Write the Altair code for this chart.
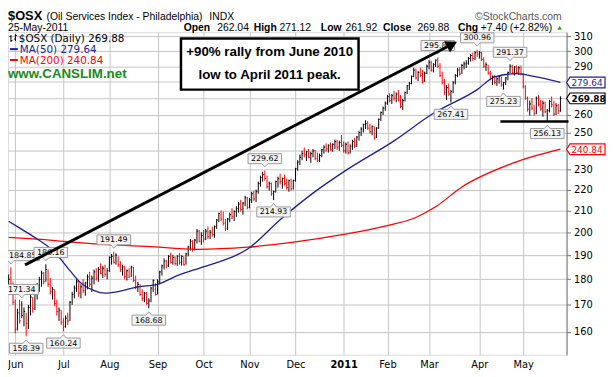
import altair as alt
import pandas as pd

# ---------------- data ----------------
# daily bars, index 0 = 26-May-2010 ... 252 = 25-May-2011 (trading days)
high = [182, 184.85, 179, 172, 168.5, 172, 171.34, 169, 167, 170,
        175, 173, 176, 178.5, 181, 183.5, 183, 186.16, 184, 180.5,
        177, 176, 172, 169, 168, 165, 166, 167, 171.5, 175,
        177.5, 180, 179.5, 178, 180, 179, 182, 183, 181.5, 184,
        184.5, 185, 186.5, 185.5, 186, 184.5, 189.5, 190.5, 191.49, 190.8,
        189.5, 187.5, 186, 185.5, 184, 184.5, 185.6, 185, 181.5, 179,
        178, 176, 175, 175, 172.5, 177, 180, 178.5, 180, 183.5,
        186, 188.6, 188, 190, 191, 190, 189.5, 190, 191, 190,
        189.5, 191, 194, 197, 196.5, 197, 201.5, 201, 200, 201,
        201.5, 202.6, 201, 202.5, 203, 206, 209, 210, 209.5, 206,
        206.5, 209, 211, 210, 212, 214, 215, 214, 217, 216.5,
        216, 219, 219.5, 220, 224, 227, 229, 229.62, 227, 224,
        223.5, 219.5, 224.5, 226.5, 228, 226, 227.5, 225.5, 225, 225.5,
        225, 231, 235, 238, 240, 241.8, 240, 241, 239.5, 241,
        240.5, 239, 238.5, 241, 243, 244, 243.5, 244.5, 244, 246,
        246, 245.5, 248.6, 245, 244.5, 245, 243.5, 246, 247, 248,
        251, 253, 255, 257, 256.5, 255, 254, 253.5, 253, 258,
        262, 265, 268, 272, 273, 272.5, 274.5, 273.5, 275, 272,
        269.5, 274, 278, 280, 284, 289, 288.5, 287, 289, 287.5,
        286.5, 291, 294, 293.5, 292, 294.5, 295.84, 292, 286.5, 282,
        278, 279, 275, 280.5, 285, 289, 289.5, 291.5, 293, 294,
        296, 298, 299, 300, 300.96, 300, 299.5, 296, 292.5, 291,
        287, 284, 284.5, 283, 284, 283.5, 280, 283, 286.5, 291.37,
        291, 290, 290.5, 290, 290.5, 285.5, 278, 271, 268.5, 270,
        266, 271, 272, 269, 268.5, 268, 263.5, 269, 271, 268.5,
        267, 266.5, 271.12]
low = [177, 176, 170, 159.5, 160.5, 163, 165, 162, 158.39, 161,
       166, 167, 168, 172, 175, 177, 178, 179, 177, 174,
       172, 169.5, 166, 164, 162.5, 160.24, 161.5, 162.5, 164, 170,
       172.5, 175, 173, 172.5, 174.5, 173.5, 176, 177, 175, 178,
       179.5, 179, 182, 180.5, 181, 180, 183, 186, 186.5, 186,
       185, 183, 181.5, 180, 179.5, 180.5, 181, 179, 176, 175,
       173.5, 171.5, 171, 170, 168.68, 171, 175, 173.5, 174, 178,
       181.5, 184, 184.5, 185, 186.5, 186, 185.7, 185.5, 186, 185.6,
       185.6, 186, 189.5, 192, 191.5, 192, 195, 195.5, 194.4, 195.5,
       196.5, 197, 197, 198, 197.5, 201.5, 204.5, 205, 203, 200.6,
       201, 204.5, 206, 205, 207, 209, 209.5, 208, 212, 210.5,
       211, 213.5, 214.5, 214, 218, 221.5, 224, 224.5, 220.5, 219.5,
       217, 214.93, 218.5, 221, 222.5, 220.5, 222, 220, 219, 219.5,
       220, 224, 229.5, 232.5, 235, 236.5, 234.5, 236, 233.6, 236.5,
       235, 234, 234, 236.5, 238.5, 239.5, 239, 240, 239.5, 241,
       240.5, 240, 242, 239, 238.5, 238, 238.5, 240.5, 241.5, 242,
       245.5, 248, 250, 252, 251.5, 249.5, 248.5, 246, 247, 252,
       256.5, 260, 262.5, 266, 267.5, 266.5, 268.5, 267.5, 268, 264,
       263, 268, 272.5, 275, 278.5, 283, 281.5, 280.5, 283, 279,
       280, 285, 288, 286.5, 286, 289.5, 289, 283, 278.5, 272,
       269, 271.5, 267.41, 273, 278.5, 283, 284, 285, 288, 289,
       291, 293, 293.5, 294, 296, 295, 293.5, 289, 287, 284.5,
       281, 278, 278.5, 277.5, 279, 277, 275.23, 278, 281, 285.5,
       285, 284, 285, 284.5, 284, 276, 269, 262, 259.6, 263,
       259.6, 260.5, 265, 262.5, 259, 261, 256.13, 261.5, 264.5, 259.5,
       260, 260.5, 261.92]
close = [180, 178, 171, 161, 167, 164, 166, 167.5, 163, 169,
         173, 168.5, 175, 177.5, 180, 182.5, 179, 184, 178, 175,
         176, 170.5, 167.5, 168, 163.5, 162, 165, 164, 171, 174,
         176.5, 179, 174.5, 177, 175.5, 178.5, 181, 178, 180.5, 183,
         180.5, 184, 182.5, 184.5, 182, 183.5, 189, 189.5, 187, 190,
         186, 184, 185, 181, 183.5, 181, 185, 179.5, 177, 178,
         174, 172.5, 174.5, 170.5, 171.5, 176.5, 179.5, 174, 179, 183,
         185.5, 187.5, 185.5, 189.5, 187, 189, 186.5, 189.5, 187, 189.5,
         186, 190.5, 193.5, 196, 192.5, 196.5, 200.5, 196, 198.5, 197,
         200.5, 198, 200, 199, 202.5, 205.5, 208.5, 206, 204, 201.5,
         206, 208, 207, 209.5, 211, 213, 210.5, 213.5, 216, 211.5,
         215, 218, 215.5, 219, 223, 226, 227.5, 225.5, 221.5, 223,
         218, 219, 224, 225.5, 224, 225.5, 223, 221, 224.5, 220.5,
         224.5, 230.5, 234, 236.5, 238.5, 238, 239.5, 236.5, 238.5, 240,
         236, 235, 237.5, 240.5, 242, 241, 243, 240.5, 243.5, 245,
         242, 244.5, 243, 240, 243.5, 239, 242.5, 245, 242.5, 247.5,
         250, 252, 254.5, 255, 252.5, 250.5, 253.5, 247, 252.5, 257.5,
         261.5, 264, 267, 271, 268.5, 271.5, 270, 272.5, 269, 265,
         268.5, 273.5, 277.5, 279, 283.5, 287.5, 282.5, 286, 284, 280,
         285.5, 290, 292.5, 287.5, 291, 294, 290, 284, 279.5, 273.5,
         276.5, 272.5, 274, 279.5, 284, 287.5, 285, 290.5, 291.5, 292,
         295, 297, 295, 299, 298, 299, 294.5, 290, 291, 285.5,
         282, 283.5, 279.5, 282, 283.5, 278, 279.5, 282.5, 286, 290,
         286, 289.5, 286, 289, 285, 277, 270, 263.5, 266.5, 264,
         261, 270, 266, 263.5, 267, 262, 262.5, 268, 266, 260.5,
         265.5, 262.48, 269.88]

# moving averages read at sample bars
ma50_i = [0, 6, 13, 21, 28, 33, 39, 44, 52, 59, 68, 77, 87, 94, 109, 124,
          139, 154, 176, 194, 214, 222, 232, 240, 252]
ma50_v = [205, 201.3, 197, 191.3, 183.5, 178.5, 175.5, 174.5, 175.5, 177,
          178, 181.5, 184.5, 186.5, 192.5, 205.7, 218.3, 229.7, 245.4, 261,
          275.2, 283.2, 285.2, 283.5, 279.64]
ma200_i = [0, 13, 28, 44, 63, 86, 109, 131, 153, 173, 186, 195, 207, 230, 252]
ma200_v = [197.7, 196.9, 195.7, 194.6, 193.8, 192.5, 193.4, 195.7, 199, 203,
           206.7, 211.7, 221.3, 233.3, 240.84]

# month axis
month_idx = [3, 25, 46, 68, 89, 110, 131, 153, 173, 192, 215, 235]
month_lab = ["Jun", "Jul", "Aug", "Sep", "Oct", "Nov", "Dec", "2011",
             "Feb", "Mar", "Apr", "May"]
y_ticks = [160, 170, 180, 190, 200, 210, 220, 230, 240, 250, 260, 270,
           280, 290, 300, 310]
y_hidden = [240, 270, 280]   # labels covered by the value flags

# price callouts
co_i = [1, 6, 8, 17, 25, 48, 64, 117, 121, 196, 202, 214, 229, 226, 246]
co_p = [184.85, 171.34, 158.39, 186.16, 160.24, 191.49, 168.68, 229.62,
        214.93, 295.84, 267.41, 300.96, 291.37, 275.23, 256.13]
co_pos = ["edge", "above", "below", "edge2", "below", "above", "below",
          "above", "below", "above", "below", "above", "above", "below", "below"]

# right-edge value flags
flag_p = [279.64, 269.88, 240.84]
flag_col = ["#1e1e96", "#000000", "#ff0000"]

# ---------------- chart ----------------
W, H = 566, 327
FONT = "DejaVu Sans"
xs = alt.Scale(domain=[-0.3, 254.8], nice=False, zero=False)
ys = alt.Scale(type="log", domain=[152, 313], nice=False)

n = len(close)
prev = [close[0]] + close[:-1]
bars_df = pd.DataFrame({
    "i": list(range(n)), "high": high, "low": low, "close": close,
    "dir": ["down" if c < p else "up" for c, p in zip(close, prev)],
})
col = alt.Color("dir:N", scale=alt.Scale(domain=["up", "down"],
                range=["#000000", "#ff0000"]), legend=None)

lab_list = "[" + ",".join("'%s'" % m for m in month_lab) + "]"
idx_list = "[" + ",".join(str(v) for v in month_idx) + "]"
hid_list = "[" + ",".join(str(v) for v in y_hidden) + "]"
x_axis = alt.Axis(
    values=month_idx, labelExpr=f"{lab_list}[indexof({idx_list}, datum.value)]",
    grid=True, gridColor="#c4c4c4", domain=False, ticks=False, title=None,
    labelFont=FONT, labelFontSize=10, labelColor="#000", labelPadding=5,
    labelFontWeight={"condition": {"test": "datum.value == 153", "value": "bold"},
                     "value": "normal"},
    labelFlush=False, labelOverlap=False)
y_axis = alt.Axis(
    orient="right", values=y_ticks, format="d", grid=True, gridColor="#c4c4c4",
    labelExpr=f"indexof({hid_list}, datum.value) >= 0 ? '' : datum.label",
    domain=True, domainColor="#707070", tickColor="#707070", tickSize=4,
    title=None, labelFont=FONT, labelFontSize=10, labelColor="#000",
    labelPadding=3, labelOverlap=False)


def X(f):
    return alt.X(f, scale=xs, axis=x_axis)


def Y(f):
    return alt.Y(f, scale=ys, axis=y_axis)


bars = alt.Chart(bars_df).mark_rule(strokeWidth=1).encode(
    x=X("i:Q"), y=Y("low:Q"), y2="high:Q", color=col)
cticks = alt.Chart(bars_df).transform_calculate(i2="datum.i + 0.55").mark_rule(
    strokeWidth=1).encode(x=X("i:Q"), x2="i2:Q", y=Y("close:Q"), color=col)

ma50 = alt.Chart(pd.DataFrame({"i": ma50_i, "v": ma50_v})).mark_line(
    color="#1e1e96", strokeWidth=1.3, interpolate="monotone").encode(
    x=X("i:Q"), y=Y("v:Q"))
ma200 = alt.Chart(pd.DataFrame({"i": ma200_i, "v": ma200_v})).mark_line(
    color="#ff0000", strokeWidth=1.3, interpolate="monotone").encode(
    x=X("i:Q"), y=Y("v:Q"))

co_df = pd.DataFrame({"i": co_i, "p": co_p, "pos": co_pos,
                      "label": ["%.2f" % v for v in co_p]})
above_path = "M-1,-0.3L1,-0.3L1,0.3L0.18,0.3L0,0.5L-0.18,0.3L-1,0.3Z"
below_path = "M-1,0.3L1,0.3L1,-0.3L0.18,-0.3L0,-0.5L-0.18,-0.3L-1,-0.3Z"
edge_path = "M-1,-0.3L1,-0.3L1,0.3L-0.52,0.3L-0.7,0.5L-0.88,0.3L-1,0.3Z"
edge2_path = "M-1,-0.3L1,-0.3L1,0.3L-0.11,0.3L-0.29,0.5L-0.47,0.3L-1,0.3Z"
callouts = []
for pos, path, off, dx in [("above", above_path, -12, 0),
                           ("below", below_path, 12, 0),
                           ("edge", edge_path, -12, 12),
                           ("edge2", edge2_path, -12, 5)]:
    base = alt.Chart(co_df).transform_filter(f"datum.pos == '{pos}'")
    callouts.append(base.mark_point(shape=path, size=1156, filled=True,
                    fill="#f3f3f3", stroke="#9a9a9a", strokeWidth=1, opacity=1,
                    yOffset=off, xOffset=dx).encode(x=X("i:Q"), y=Y("p:Q")))
    callouts.append(base.mark_text(font=FONT, fontSize=8, color="#000",
                    baseline="middle", yOffset=off + 0.5, xOffset=dx).encode(
                    x=X("i:Q"), y=Y("p:Q"), text="label:N"))

# trend arrow, support line, text box
arrow = alt.Chart(pd.DataFrame({"i": [7.5], "p": [185.9], "i2": [201.2], "p2": [303.6]})
                  ).mark_rule(strokeWidth=3, color="#000").encode(
    x=X("i:Q"), x2="i2:Q", y=Y("p:Q"), y2="p2:Q")
head = alt.Chart(pd.DataFrame({"i": [202.5], "p": [304.6]})).mark_point(
    shape="triangle-up", angle=62.5, size=170, filled=True, color="#000",
    opacity=1).encode(x=X("i:Q"), y=Y("p:Q"))
support = alt.Chart(pd.DataFrame({"i": [224.6], "i2": [255.7], "p": [256.2]})
                    ).mark_rule(strokeWidth=2.5, color="#000").encode(
    x=X("i:Q"), x2="i2:Q", y=Y("p:Q"))
box = alt.Chart(pd.DataFrame({"i": [78.7], "i2": [159.8], "p": [275.2], "p2": [308.6]})
                ).mark_rect(fill="#ffffff", stroke="#000", strokeWidth=2.5).encode(
    x=X("i:Q"), x2="i2:Q", y=Y("p:Q"), y2="p2:Q")
box_txt = alt.Chart(pd.DataFrame({
    "i": [119.2, 119.2], "p": [299.3, 284.5],
    "t": ["+90% rally from June 2010", "low to April 2011 peak."]})).mark_text(
    font="Liberation Sans", fontSize=13.5, fontWeight="bold", color="#000",
    baseline="middle").encode(x=X("i:Q"), y=Y("p:Q"), text="t:N")

# right value flags
flag_df = pd.DataFrame({"p": flag_p, "label": ["%.2f" % v for v in flag_p]})
flag_w = ["normal", "bold", "normal"]
flag_path = "M-1,0L-0.82,-0.28L1,-0.28L1,0.28L-0.82,0.28Z"
flags = []
for k in range(len(flag_p)):
    fb = alt.Chart(flag_df.iloc[[k]])
    flags.append(fb.mark_point(shape=flag_path, size=1521, filled=True,
                 fill="#ffffff", stroke=flag_col[k], strokeWidth=1.2,
                 opacity=1).encode(x=alt.value(W + 19.5), y=Y("p:Q")))
    flags.append(fb.mark_text(font=FONT, fontSize=9, color=flag_col[k],
                 fontWeight=flag_w[k], align="left", baseline="middle",
                 dy=0.5).encode(x=alt.value(W + 5), y=Y("p:Q"), text="label:N"))


def txt(t, x, y, size=11, weight="normal", color="#000",
        font="Liberation Sans", align="left"):
    return alt.Chart(pd.DataFrame({"t": [t]})).mark_text(
        font=font, fontSize=size, fontWeight=weight, color=color, align=align,
        baseline="alphabetic").encode(x=alt.value(x), y=alt.value(y), text="t:N")


def seg(x1, x2, y1, y2, color="#000", w=1):
    return alt.Chart(pd.DataFrame({"a": [0]})).mark_rule(
        color=color, strokeWidth=w).encode(
        x=alt.value(x1), x2=alt.value(x2), y=alt.value(y1), y2=alt.value(y2))


R1, R2 = -12.5, -1.2
header = [
    txt("$OSX", 0, R1, size=13, weight="bold"),
    txt("(Oil Services Index - Philadelphia)", 39, R1, size=10.5),
    txt("INDX", 204, R1, size=10.5),
    txt("\u00a9StockCharts.com", 561, R1, size=10.5, color="#555", align="right"),
    txt("25-May-2011", 0, R2, size=10.5),
    txt("Open", 178, R2, size=10.5, weight="bold"), txt("262.04", 212, R2, size=10.5),
    txt("High", 249, R2, size=10.5, weight="bold"), txt("271.12", 275, R2, size=10.5),
    txt("Low", 317, R2, size=10.5, weight="bold"), txt("261.92", 342, R2, size=10.5),
    txt("Close", 380, R2, size=10.5, weight="bold"), txt("269.88", 415, R2, size=10.5),
    txt("Chg", 456, R2, size=10.5, weight="bold"),
    txt("+7.40 (+2.82%)", 479, R2, size=10.5),
]
up_tri = alt.Chart(pd.DataFrame({"a": [0]})).mark_point(
    shape="triangle-up", size=22, filled=True, color="#22aa22", opacity=1).encode(
    x=alt.value(559), y=alt.value(-4.5))

legend = [
    txt("$OSX (Daily) 269.88", 11, 10, size=10.5, font=FONT),
    txt("MA(50) 279.64", 12, 21, size=10.5, font=FONT, color="#1e1e96"),
    txt("MA(200) 240.84", 12, 32, size=10.5, font=FONT, color="#ff0000"),
    txt("www.CANSLIM.net", 0, 46, size=13.5, weight="bold", color="#1a8a1a"),
    # small bar icon
    seg(3, 3, 3, 10), seg(1.5, 3, 4.5, 4.5), seg(3, 4.5, 8.5, 8.5),
    seg(7.5, 7.5, 2, 9), seg(6, 7.5, 7, 7), seg(7.5, 9, 3.5, 3.5),
    seg(2, 10, 17.2, 17.2, color="#1e1e96", w=2),
    seg(2, 10, 28.2, 28.2, color="#ff0000", w=2),
]

chart = alt.layer(
    bars, cticks, ma200, ma50, *callouts, arrow, head, support, box, box_txt,
    *flags, *header, up_tri, *legend,
).properties(
    width=W, height=H,
    autosize=alt.AutoSizeParams(type="none"),
    padding={"left": 0, "top": 22, "right": 41, "bottom": 20},
).configure_view(
    fill="#efefef", stroke="#8c8c8c", strokeWidth=1
).configure(background="#ffffff")

chart.save("out.html", embed_options={"renderer": "svg", "actions": False})
